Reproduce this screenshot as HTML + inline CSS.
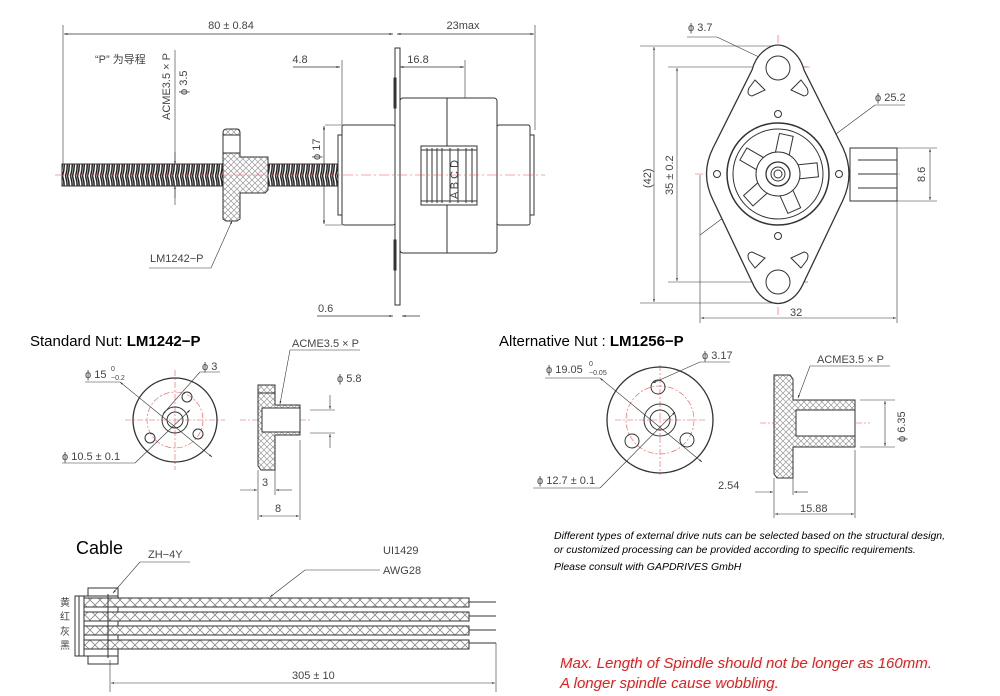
<!DOCTYPE html>
<html><head><style>
html,body{margin:0;padding:0;background:#fff;}
svg{display:block;font-family:"Liberation Sans","Noto Sans CJK SC",sans-serif;}
</style></head><body>
<svg width="1000" height="696" viewBox="0 0 1000 696" xmlns="http://www.w3.org/2000/svg">
<defs>
<pattern id="thr" width="5" height="22" patternUnits="userSpaceOnUse"><rect width="5" height="22" fill="#fff"/><path d="M0.5 0 Q4 11 0.5 22 M2.5 0 Q6 11 2.5 22" stroke="#222" stroke-width="1.5" fill="none"/></pattern>
<pattern id="hx" width="6" height="6" patternUnits="userSpaceOnUse"><rect width="6" height="6" fill="#fff"/><path d="M0 0L6 6M6 0L0 6" stroke="#999" stroke-width="0.7"/></pattern>
<pattern id="cx" width="10" height="10" patternUnits="userSpaceOnUse"><rect width="10" height="10" fill="#fff"/><path d="M0 0L10 10M10 0L0 10" stroke="#888" stroke-width="0.8"/></pattern>
<marker id="a" viewBox="0 0 10 10" refX="10" refY="5" markerWidth="7" markerHeight="5" orient="auto-start-reverse"><path d="M0 2L10 5L0 8z" fill="#333"/></marker>
</defs>
<g stroke="#333" fill="none" stroke-width="1">
<line x1="63" y1="25" x2="63" y2="172" stroke-width="0.6"/>
<line x1="535" y1="25" x2="535" y2="130" stroke-width="0.6"/>
<line x1="64" y1="34" x2="393" y2="34" marker-start="url(#a)" marker-end="url(#a)" stroke-width="0.7"/>
<line x1="397" y1="34" x2="534" y2="34" marker-start="url(#a)" marker-end="url(#a)" stroke-width="0.7"/>
<line x1="293" y1="67" x2="340" y2="67" marker-end="url(#a)" stroke-width="0.7"/>
<line x1="342" y1="60" x2="342" y2="125" stroke-width="0.6"/>
<line x1="400" y1="67" x2="464" y2="67" marker-start="url(#a)" marker-end="url(#a)" stroke-width="0.7"/>
<line x1="465" y1="60" x2="465" y2="98" stroke-width="0.6"/>
<line x1="175" y1="50" x2="175" y2="205" stroke-width="0.6"/>
<line x1="175" y1="152" x2="175" y2="164" marker-end="url(#a)" stroke-width="0.6"/>
<line x1="175" y1="198" x2="175" y2="186" marker-end="url(#a)" stroke-width="0.6"/>
<line x1="325" y1="125" x2="342" y2="125" stroke-width="0.6"/>
<line x1="325" y1="225" x2="342" y2="225" stroke-width="0.6"/>
<line x1="324" y1="126" x2="324" y2="224" marker-start="url(#a)" marker-end="url(#a)" stroke-width="0.7"/>
<line x1="317" y1="316" x2="393" y2="316" marker-end="url(#a)" stroke-width="0.7"/>
<line x1="420" y1="316" x2="402" y2="316" marker-end="url(#a)" stroke-width="0.7"/>
<rect x="62" y="164" width="280" height="22" fill="url(#thr)" stroke="#333"/>
<path d="M223 133 Q223 129 227 129 L237 129 Q240 129 240 133 L240 157 L268 157 L268 190 L265 193 L240 193 L240 219 L237 221 L226 221 L223 219 Z" fill="url(#hx)" stroke="#333"/>
<rect x="223" y="135" width="17" height="18" fill="#fff"/>
<line x1="223" y1="135" x2="240" y2="135"/>
<rect x="395" y="48" width="5" height="257" fill="#fff"/>
<rect x="400" y="98" width="97" height="155" rx="3" fill="#fff"/>
<line x1="447" y1="98" x2="447" y2="253"/>
<rect x="342" y="125" width="53" height="100" rx="2" fill="#fff"/>
<rect x="338" y="135" width="4" height="80" fill="#fff"/>
<rect x="497" y="125" width="33" height="100" rx="2" fill="#fff"/>
<rect x="530" y="135" width="4" height="80" fill="#fff"/>
<rect x="394" y="78" width="2" height="30"/><rect x="394" y="240" width="2" height="30"/>
<rect x="421" y="146" width="56" height="59" fill="#fff"/>
<line x1="427" y1="148" x2="427" y2="203"/><line x1="432" y1="148" x2="432" y2="203"/><line x1="437" y1="148" x2="437" y2="203"/><line x1="442" y1="148" x2="442" y2="203"/><line x1="450" y1="148" x2="450" y2="203"/><line x1="458" y1="148" x2="458" y2="203"/><line x1="466" y1="148" x2="466" y2="203"/><line x1="472" y1="148" x2="472" y2="203"/>
<line x1="421" y1="150" x2="477" y2="150"/><line x1="421" y1="201" x2="477" y2="201"/>
<line x1="55" y1="175" x2="545" y2="175" stroke="#e55" stroke-width="0.6" stroke-dasharray="10 3 2 3"/>
<path d="M149 268 L211 268 L232 221" stroke-width="0.6" marker-end="url(#a)"/>

<g stroke-width="0.6">
<line x1="640" y1="46" x2="778" y2="46"/><line x1="640" y1="303" x2="778" y2="303"/>
<line x1="654" y1="47" x2="654" y2="302" marker-start="url(#a)" marker-end="url(#a)"/>
<line x1="668" y1="67" x2="808" y2="67"/><line x1="668" y1="282" x2="808" y2="282"/>
<line x1="677" y1="68" x2="677" y2="281" marker-start="url(#a)" marker-end="url(#a)"/>
<line x1="700" y1="175" x2="700" y2="323"/><line x1="897" y1="201" x2="897" y2="323"/>
<line x1="701" y1="318" x2="896" y2="318" marker-start="url(#a)" marker-end="url(#a)"/>
<line x1="890" y1="148" x2="937" y2="148"/><line x1="890" y1="201" x2="937" y2="201"/>
<line x1="930" y1="149" x2="930" y2="200" marker-start="url(#a)" marker-end="url(#a)"/>
<line x1="687" y1="37" x2="717" y2="37"/><line x1="717" y1="37" x2="807" y2="80" marker-end="url(#a)"/>
<line x1="875" y1="105" x2="905" y2="105"/><line x1="875" y1="105" x2="700" y2="235"/>
<line x1="778" y1="35" x2="778" y2="315" stroke="#e55" stroke-dasharray="8 3 2 3"/>
<line x1="695" y1="174" x2="900" y2="174" stroke="#e55" stroke-dasharray="8 3 2 3"/>
<line x1="760" y1="67" x2="810" y2="67" stroke="#e55" stroke-dasharray="6 2"/>
</g>
<rect x="850" y="148" width="47" height="53" fill="#fff"/>
<line x1="858" y1="160" x2="897" y2="160"/><line x1="858" y1="174" x2="897" y2="174"/><line x1="858" y1="188" x2="897" y2="188"/>
<path d="M768 48 Q778 42 788 48 Q800 55 804 70 L843 148 Q855 174 843 200 L804 282 Q798 296 788 301 Q778 306 768 301 Q758 296 752 282 L713 200 Q700 174 713 148 L752 70 Q756 55 768 48 Z" fill="#fff" stroke-width="1.3"/>
<circle cx="778" cy="68" r="12"/><circle cx="778" cy="282" r="12"/>
<circle cx="778" cy="174" r="51" stroke-width="1.5"/><circle cx="778" cy="174" r="45"/>
<g transform="translate(778,174)" fill="#fff">
<rect x="-7" y="-40" width="14" height="24" transform="rotate(12)"/>
<rect x="-7" y="-40" width="14" height="24" transform="rotate(84)"/>
<rect x="-7" y="-40" width="14" height="24" transform="rotate(156)"/>
<rect x="-7" y="-40" width="14" height="24" transform="rotate(228)"/>
<rect x="-7" y="-40" width="14" height="24" transform="rotate(300)"/>
<circle r="22"/>
</g>
<circle cx="778" cy="174" r="12" stroke-width="1.3"/><circle cx="778" cy="174" r="7"/><circle cx="778" cy="174" r="4"/>
<circle cx="778" cy="114" r="3.5"/><circle cx="778" cy="236" r="3.5"/><circle cx="717" cy="174" r="3.5"/><circle cx="839" cy="174" r="3.5"/>
<path d="M755 80 L765 90 L752 96 Q746 95 749 88Z"/><path d="M801 80 L791 90 L804 96 Q810 95 807 88Z"/>
<path d="M755 268 L765 258 L752 252 Q746 253 749 260Z"/><path d="M801 268 L791 258 L804 252 Q810 253 807 260Z"/>

<g stroke-width="0.6" stroke="#e55" stroke-dasharray="6 2 2 2">
<line x1="125" y1="420" x2="225" y2="420"/><line x1="175" y1="370" x2="175" y2="470"/>
<circle cx="175" cy="420" r="28"/>
<line x1="240" y1="420" x2="310" y2="420"/>
<line x1="615" y1="420" x2="705" y2="420"/><line x1="660" y1="365" x2="660" y2="475"/>
<circle cx="660" cy="420" r="34"/>
<line x1="760" y1="423" x2="870" y2="423"/>
</g>
<circle cx="175" cy="420" r="42" stroke-width="1.3" fill="none"/>
<circle cx="175" cy="420" r="13"/><circle cx="175" cy="420" r="8"/>
<circle cx="187" cy="397" r="5"/><circle cx="150" cy="438" r="5"/><circle cx="198" cy="434" r="5"/>
<g stroke-width="0.6">
<line x1="85" y1="382" x2="120" y2="382"/><line x1="120" y1="382" x2="212" y2="457" marker-start="url(#a)" marker-end="url(#a)"/>
<line x1="200" y1="372" x2="220" y2="372"/><line x1="200" y1="372" x2="163" y2="414" marker-end="url(#a)"/>
<line x1="62" y1="463" x2="135" y2="463"/><line x1="135" y1="463" x2="190" y2="410" marker-end="url(#a)"/>
</g>
<path d="M260 388 L272 388 L275 392 L275 405 L300 405 L300 435 L275 435 L275 470 L261 470 L258 466 L258 392Z" fill="url(#hx)"/>
<rect x="262" y="408" width="38" height="24" fill="#fff"/>
<rect x="258" y="385" width="17" height="8" fill="url(#hx)"/>
<g stroke-width="0.6">
<line x1="290" y1="350" x2="360" y2="350"/><line x1="290" y1="350" x2="280" y2="404" marker-end="url(#a)"/>
<line x1="310" y1="410" x2="335" y2="410"/><line x1="310" y1="433" x2="335" y2="433"/>
<line x1="330" y1="395" x2="330" y2="409" marker-end="url(#a)"/><line x1="330" y1="448" x2="330" y2="434" marker-end="url(#a)"/>
<line x1="258" y1="470" x2="258" y2="520"/><line x1="275" y1="470" x2="275" y2="495"/><line x1="300" y1="440" x2="300" y2="520"/>
<line x1="240" y1="490" x2="257" y2="490" marker-end="url(#a)"/><line x1="292" y1="490" x2="276" y2="490" marker-end="url(#a)"/>
<line x1="259" y1="516" x2="299" y2="516" marker-start="url(#a)" marker-end="url(#a)"/>
</g>

<circle cx="660" cy="420" r="53" stroke-width="1.3"/>
<circle cx="660" cy="420" r="16"/><circle cx="660" cy="420" r="10"/>
<circle cx="658" cy="387" r="7"/><circle cx="632" cy="441" r="7"/><circle cx="687" cy="440" r="7"/>
<g stroke-width="0.6">
<line x1="545" y1="378" x2="600" y2="378"/><line x1="600" y1="378" x2="702" y2="462" marker-start="url(#a)" marker-end="url(#a)"/>
<line x1="700" y1="362" x2="730" y2="362"/><line x1="700" y1="362" x2="653" y2="383" marker-end="url(#a)"/>
<line x1="533" y1="488" x2="600" y2="488"/><line x1="600" y1="488" x2="675" y2="412" marker-end="url(#a)"/>
</g>
<path d="M774 375 L790 375 L793 379 L793 400 L855 400 L855 447 L793 447 L793 478 L777 478 L774 474Z" fill="url(#hx)"/>
<rect x="796" y="410" width="59" height="26" fill="#fff"/>
<g stroke-width="0.6">
<line x1="810" y1="366" x2="890" y2="366"/><line x1="810" y1="366" x2="798" y2="398" marker-end="url(#a)"/>
<line x1="860" y1="400" x2="895" y2="400"/><line x1="860" y1="447" x2="895" y2="447"/>
<line x1="885" y1="401" x2="885" y2="446" marker-start="url(#a)" marker-end="url(#a)"/>
<line x1="774" y1="478" x2="774" y2="518"/><line x1="793" y1="478" x2="793" y2="495"/><line x1="855" y1="450" x2="855" y2="518"/>
<line x1="755" y1="492" x2="773" y2="492" marker-end="url(#a)"/><line x1="808" y1="492" x2="794" y2="492" marker-end="url(#a)"/>
<line x1="775" y1="514" x2="854" y2="514" marker-start="url(#a)" marker-end="url(#a)"/>
</g>

<rect x="75" y="596" width="4" height="60"/><rect x="79" y="596" width="5" height="60"/>
<rect x="88" y="588" width="30" height="8"/><rect x="88" y="656" width="30" height="8"/>
<rect x="84" y="596" width="34" height="60" fill="#fff"/>
<rect x="88" y="600" width="3" height="5"/><rect x="88" y="614" width="3" height="5"/><rect x="88" y="628" width="3" height="5"/><rect x="88" y="642" width="3" height="5"/>
<rect x="84" y="598" width="385" height="9" fill="url(#cx)"/>
<rect x="84" y="612" width="385" height="9" fill="url(#cx)"/>
<rect x="84" y="626" width="385" height="9" fill="url(#cx)"/>
<rect x="84" y="640" width="385" height="9" fill="url(#cx)"/>
<line x1="108" y1="594" x2="108" y2="658"/>
<line x1="469" y1="602" x2="496" y2="602"/><line x1="469" y1="616" x2="496" y2="616"/><line x1="469" y1="630" x2="496" y2="630"/><line x1="469" y1="643" x2="496" y2="643"/>
<g stroke-width="0.6">
<line x1="140" y1="562" x2="190" y2="562"/><line x1="140" y1="562" x2="113" y2="593" marker-end="url(#a)"/>
<line x1="305" y1="570" x2="380" y2="570"/><line x1="305" y1="570" x2="270" y2="597" marker-end="url(#a)"/>
<line x1="110" y1="660" x2="110" y2="692"/><line x1="496" y1="643" x2="496" y2="692"/>
<line x1="111" y1="683" x2="495" y2="683" marker-start="url(#a)" marker-end="url(#a)"/>
</g>
</g>

<g fill="#444" font-size="11">
<text x="231" y="29" text-anchor="middle">80 ± 0.84</text>
<text x="463" y="29" text-anchor="middle">23max</text>
<text x="95" y="63">“P” 为导程</text>
<text x="300" y="63" text-anchor="middle">4.8</text>
<text x="418" y="63" text-anchor="middle">16.8</text>
<text transform="translate(170,120) rotate(-90)">ACME3.5 × P</text>
<text transform="translate(187,95) rotate(-90)">ϕ 3.5</text>
<text transform="translate(320,160) rotate(-90)">ϕ 17</text>
<text transform="translate(458,199) rotate(-90)">A B C D</text>
<text x="150" y="262">LM1242−P</text>
<text x="318" y="312">0.6</text>
<text x="688" y="31">ϕ 3.7</text>
<text x="875" y="101">ϕ 25.2</text>
<text transform="translate(651,188) rotate(-90)">(42)</text>
<text transform="translate(673,195) rotate(-90)">35 ± 0.2</text>
<text x="790" y="316">32</text>
<text transform="translate(925,182) rotate(-90)">8.6</text>
<text x="85" y="378">ϕ 15</text><text x="111" y="371" font-size="7">0</text><text x="111" y="380" font-size="7">−0.2</text>
<text x="202" y="370">ϕ 3</text>
<text x="292" y="347">ACME3.5 × P</text>
<text x="337" y="382">ϕ 5.8</text>
<text x="62" y="460">ϕ 10.5 ± 0.1</text>
<text x="262" y="486">3</text><text x="275" y="512">8</text>
<text x="546" y="373">ϕ 19.05</text><text x="589" y="366" font-size="7">0</text><text x="589" y="375" font-size="7">−0.05</text>
<text x="702" y="359">ϕ 3.17</text>
<text x="817" y="363">ACME3.5 × P</text>
<text transform="translate(905,442) rotate(-90)">ϕ 6.35</text>
<text x="537" y="484">ϕ 12.7 ± 0.1</text>
<text x="718" y="489">2.54</text>
<text x="800" y="512">15.88</text>
<text x="148" y="558">ZH−4Y</text>
<text x="383" y="554">UI1429</text>
<text x="383" y="574">AWG28</text>
<text x="292" y="679">305 ± 10</text>
<text x="60" y="606" font-size="10">黄</text><text x="60" y="620" font-size="10">红</text><text x="60" y="635" font-size="10">灰</text><text x="60" y="649" font-size="10">黑</text>
</g>
<g fill="#000">
<text x="30" y="346" font-size="15">Standard Nut: <tspan font-weight="bold">LM1242−P</tspan></text>
<text x="499" y="346" font-size="15">Alternative Nut : <tspan font-weight="bold">LM1256−P</tspan></text>
<text x="76" y="554" font-size="18">Cable</text>
<g font-size="10.5" font-style="italic">
<text x="554" y="539">Different types of external drive nuts can be selected based on the structural design,</text>
<text x="554" y="553">or customized processing can be provided according to specific requirements.</text>
<text x="554" y="570">Please consult with GAPDRIVES GmbH</text>
</g>
</g>
<g fill="#e02020" font-size="15" font-style="italic">
<text x="560" y="668">Max. Length of Spindle should not be longer as 160mm.</text>
<text x="560" y="688">A longer spindle cause wobbling.</text>
</g>
</svg>
</body></html>
